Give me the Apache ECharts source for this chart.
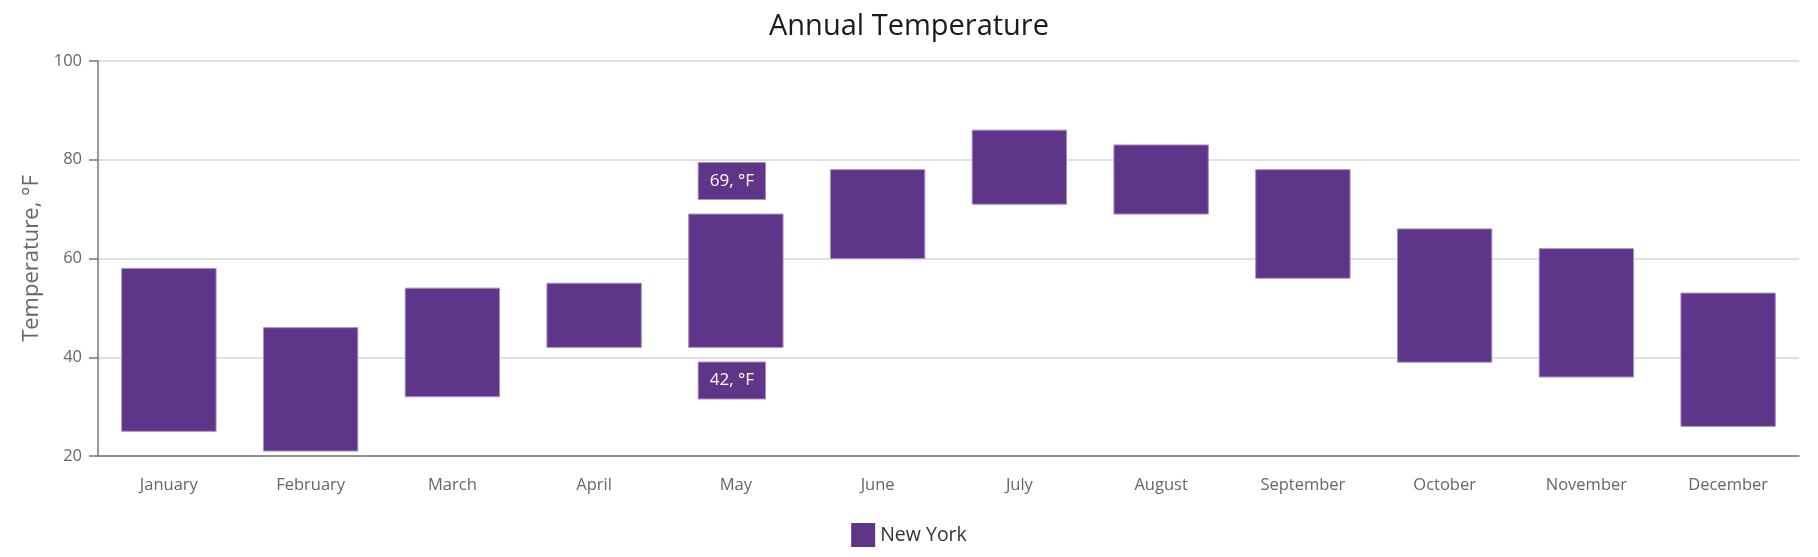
<!DOCTYPE html>
<html>
<head>
<meta charset="utf-8">
<script src="https://cdn.jsdelivr.net/npm/echarts@6/dist/echarts.min.js"></script>
<style>html,body{margin:0;padding:0;background:#fff}#c{width:1818px;height:557px}</style>
</head>
<body>
<div id="c"></div>
<script>
var months = ['January','February','March','April','May','June','July','August','September','October','November','December'];
var lows  = [25, 21, 32, 42, 42, 60, 71, 69, 56, 39, 36, 26];
var highs = [58, 46, 54, 55, 69, 78, 86, 83, 78, 66, 62, 53];
var labelledIndex = 4;
var seriesName = 'New York';
var unit = '°F';

var FONT = "'Segoe UI', 'Open Sans', sans-serif";
var PURPLE = '#5f3589';
var EDGE = '#a592c2';

var data = months.map(function (m, i) { return [i, lows[i], highs[i]]; });

var chart = echarts.init(document.getElementById('c'), null, {renderer: 'canvas'});
chart.setOption({
  animation: false,
  backgroundColor: '#fff',
  title: {
    text: 'Annual Temperature', left: 'center', top: 7,
    textStyle: {fontFamily: FONT, fontSize: 29, fontWeight: 'normal', color: '#1a1a1a'}
  },
  legend: {
    bottom: 5, left: 'center', itemWidth: 24, itemHeight: 24, icon: 'rect', itemGap: 10,
    data: [{name: seriesName, itemStyle: {color: PURPLE}}],
    textStyle: {fontFamily: FONT, fontSize: 19.5, color: '#333'}
  },
  grid: {left: 98, right: 19, top: 61, bottom: 101},
  xAxis: {
    type: 'category', data: months,
    axisLine: {lineStyle: {color: '#777', width: 1.5}},
    axisTick: {alignWithLabel: true, length: 10, lineStyle: {color: '#777', width: 1.5}},
    axisLabel: {fontFamily: FONT, fontSize: 16.5, color: '#666', margin: 21}
  },
  yAxis: {
    type: 'value', min: 20, max: 100, interval: 20,
    name: 'Temperature, °F', nameLocation: 'middle', nameGap: 55, nameRotate: 90,
    nameTextStyle: {fontFamily: FONT, fontSize: 22, color: '#666'},
    axisLine: {show: true, lineStyle: {color: '#777', width: 1.5}},
    axisTick: {show: true, length: 9, lineStyle: {color: '#777', width: 1.5}},
    axisLabel: {fontFamily: FONT, fontSize: 16.5, color: '#666', margin: 16},
    splitLine: {lineStyle: {color: '#d6d6d6', width: 1.5}}
  },
  series: [{
    type: 'custom', name: seriesName, data: data,
    encode: {x: 0, y: [1, 2]},
    itemStyle: {color: PURPLE},
    renderItem: function (params, api) {
      var idx = api.value(0);
      var lo = api.coord([idx, api.value(1)]);
      var hi = api.coord([idx, api.value(2)]);
      var w = api.size([1, 0])[0] * 0.666;
      var children = [{
        type: 'rect',
        shape: {x: lo[0] - w / 2, y: hi[1], width: w, height: lo[1] - hi[1]},
        style: {fill: PURPLE, stroke: EDGE, lineWidth: 1}
      }];
      if (idx === labelledIndex) {
        var ts = {fill: '#fff', fontSize: 17, fontFamily: FONT, backgroundColor: PURPLE,
                  borderColor: EDGE, borderWidth: 1, padding: [9, 11, 9, 11], align: 'center', lineHeight: 18};
        children.push({type: 'text', x: lo[0] - 4, y: hi[1] - 15,
          style: Object.assign({text: api.value(2) + ', ' + unit, verticalAlign: 'bottom'}, ts)});
        children.push({type: 'text', x: lo[0] - 4, y: lo[1] + 15,
          style: Object.assign({text: api.value(1) + ', ' + unit, verticalAlign: 'top'}, ts)});
      }
      return {type: 'group', children: children};
    }
  }]
});
</script>
</body>
</html>
